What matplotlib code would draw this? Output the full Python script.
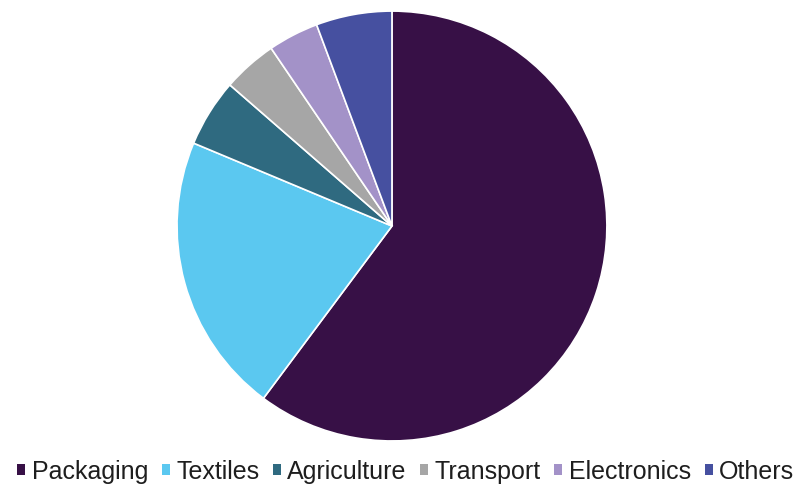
import matplotlib.pyplot as plt
from matplotlib.patches import Patch

# market share by application (%)
categories = ["Packaging", "Textiles", "Agriculture", "Transport", "Electronics", "Others"]
shares = [60.2, 21.1, 5.1, 4.1, 3.8, 5.7]
colors = ["#371046", "#5BC8F0", "#2F6A80", "#A6A6A6", "#A392C8", "#4650A0"]

plt.rcParams["font.family"] = ["Liberation Sans", "DejaVu Sans"]

fig = plt.figure(figsize=(8.05, 4.89), dpi=100)
ax = fig.add_axes([0.2199, 0.0961, 0.534, 0.8793])
ax.pie(
    shares,
    colors=colors,
    startangle=90,
    counterclock=False,
    radius=1.0,
    wedgeprops=dict(edgecolor="white", linewidth=1.2),
)
ax.set_xlim(-1, 1)
ax.set_ylim(-1, 1)
ax.set_aspect("equal")
ax.axis("off")

handles = [Patch(facecolor=c, edgecolor="none") for c in colors]
fig.legend(
    handles,
    categories,
    loc="center",
    bbox_to_anchor=(0.504, 0.034),
    ncol=len(categories),
    frameon=False,
    fontsize=18,
    handlelength=0.32,
    handleheight=0.32,
    handletextpad=0.25,
    columnspacing=0.55,
    borderpad=0,
    labelcolor="#1e1e1e",
)

fig.savefig("out.png", dpi=100)
